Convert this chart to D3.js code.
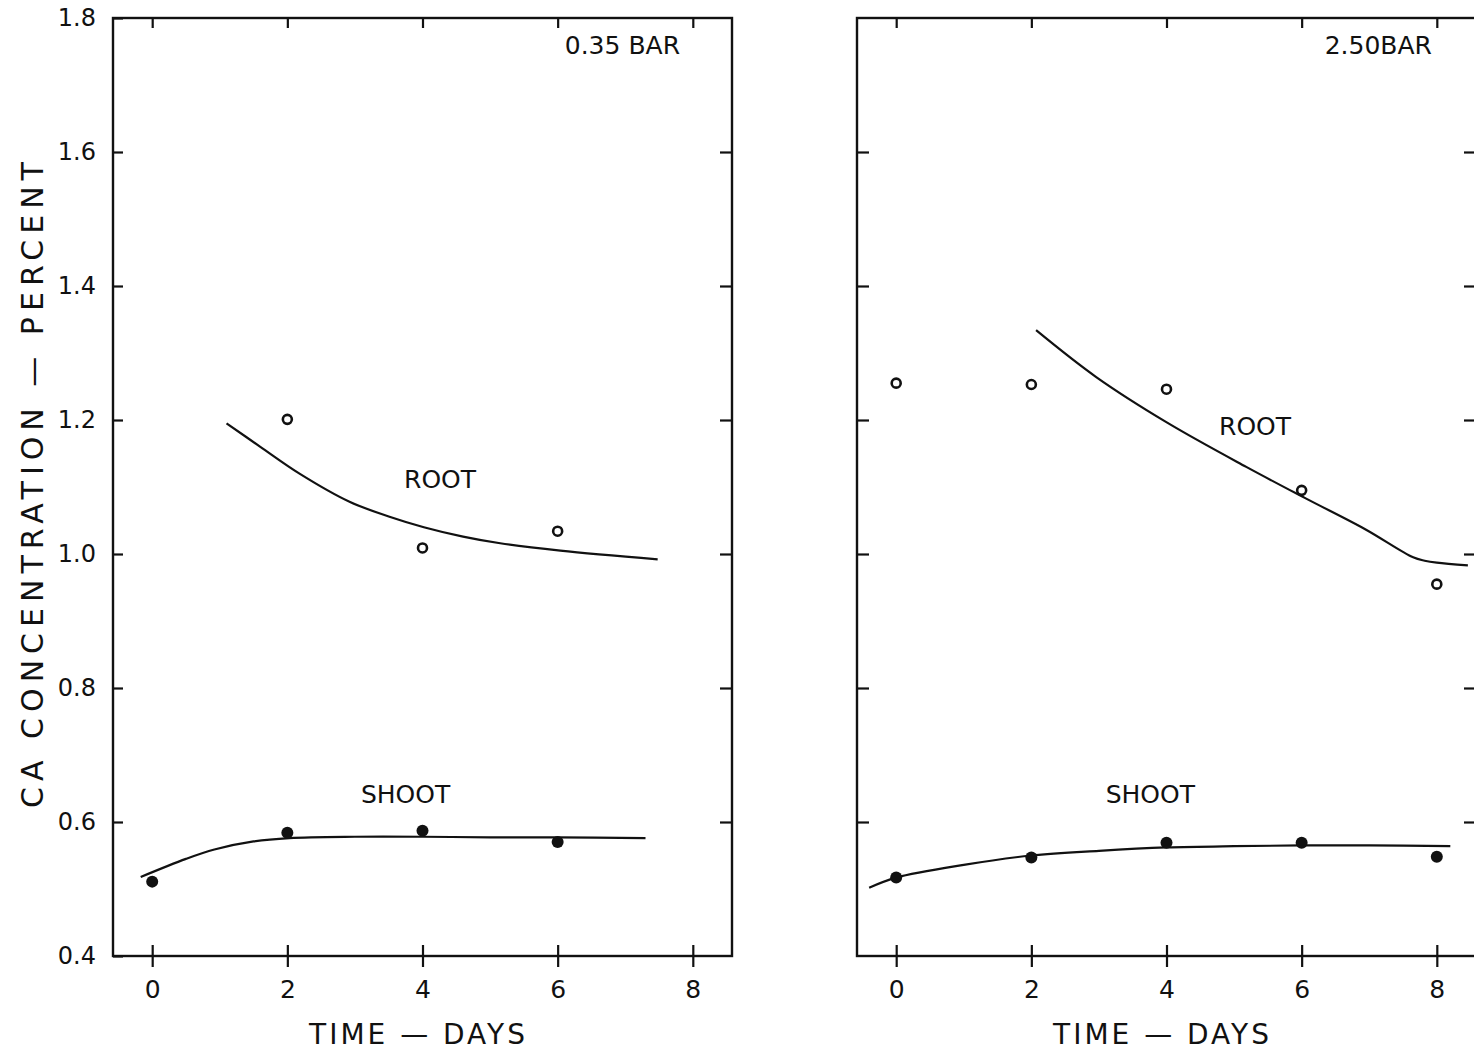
<!DOCTYPE html>
<html>
<head>
<meta charset="utf-8">
<script src="https://cdn.jsdelivr.net/npm/d3@7"></script>
<style>
  body { margin: 0; background: #fff; }
  svg { display: block; }
  text { font-family: "DejaVu Sans", sans-serif; fill: #111; }
  .axis path, .axis line { stroke: #111; stroke-width: 2.2; }
</style>
</head>
<body>
<svg id="chart"></svg>
<script>
const svgWidth = 1474, svgHeight = 1052;

// x ticks (days) and y ticks (percent)
const dayTicks = [0, 2, 4, 6, 8];
const pctTicks = [0.4, 0.6, 0.8, 1.0, 1.2, 1.4, 1.6, 1.8];

// 0.35 bar panel
const lowDays = [2, 4, 6];
const lowRoot = [1.201, 1.009, 1.034];
const lowShootDays = [0, 2, 4, 6];
const lowShoot = [0.511, 0.584, 0.587, 0.570];
const lowRootFitDays = [1.10, 1.6, 2.18, 2.92, 3.5, 4.02, 4.6, 5.15, 6.04, 7.48];
const lowRootFit = [1.195, 1.160, 1.120, 1.078, 1.056, 1.040, 1.026, 1.016, 1.005, 0.992];
const lowShootFitDays = [-0.17, 0.5, 0.92, 1.5, 2.03, 3, 4, 5, 6, 7.3];
const lowShootFit = [0.518, 0.545, 0.559, 0.571, 0.576, 0.578, 0.578, 0.577, 0.577, 0.576];

// 2.50 bar panel
const highDays = [0, 2, 4, 6, 8];
const highRoot = [1.255, 1.253, 1.246, 1.095, 0.955];
const highShoot = [0.517, 0.547, 0.569, 0.569, 0.548];
const highRootFitDays = [2.07, 2.96, 4.01, 5.18, 6.06, 6.94, 7.65, 7.82, 8.0, 8.46];
const highRootFit = [1.334, 1.264, 1.196, 1.130, 1.083, 1.037, 0.995, 0.990, 0.987, 0.983];
const highShootFitDays = [-0.4, 0, 1, 2, 3, 4, 5, 6, 7, 8.2];
const highShootFit = [0.502, 0.517, 0.536, 0.550, 0.557, 0.562, 0.564, 0.565, 0.565, 0.564];

const panels = [
  { left: 113, right: 732, title: "0.35 BAR", titleInset: 52, labels: true,
    rootDays: lowDays, root: lowRoot, shootDays: lowShootDays, shoot: lowShoot,
    rootFitDays: lowRootFitDays, rootFit: lowRootFit,
    shootFitDays: lowShootFitDays, shootFit: lowShootFit,
    rootLabel: [4.26, 1.098], shootLabel: [3.75, 0.628] },
  { left: 857, right: 1476, title: "2.50BAR", titleInset: 44, labels: false,
    rootDays: highDays, root: highRoot, shootDays: highDays, shoot: highShoot,
    rootFitDays: highRootFitDays, rootFit: highRootFit,
    shootFitDays: highShootFitDays, shootFit: highShootFit,
    rootLabel: [5.31, 1.178], shootLabel: [3.76, 0.628] }
];

const plotTop = 18, plotBottom = 956;

const chart = d3.select("#chart")
    .attr("width", svgWidth)
    .attr("height", svgHeight);

var yScale = d3.scaleLinear().domain([0.4, 1.8]).range([plotBottom, plotTop]);

panels.forEach(function(p) {
    var xScale = d3.scaleLinear().domain([-0.58, 8.58]).range([p.left, p.right]);
    var g = chart.append("g");

    // frame
    g.append("rect")
        .attr("x", p.left).attr("y", plotTop)
        .attr("width", p.right - p.left).attr("height", plotBottom - plotTop)
        .attr("fill", "none").attr("stroke", "#111").attr("stroke-width", 2.4);

    // bottom axis, ticks crossing the line
    var xb = g.append("g").attr("class", "axis")
        .attr("transform", "translate(0," + plotBottom + ")")
        .call(d3.axisBottom(xScale).tickValues(dayTicks).tickSize(11).tickPadding(13));
    xb.select(".domain").remove();
    xb.selectAll(".tick line").attr("y1", -11);
    xb.selectAll(".tick text").style("font-size", "25px").attr("dy", "0.71em");

    // top axis, ticks inward
    var xt = g.append("g").attr("class", "axis")
        .attr("transform", "translate(0," + plotTop + ")")
        .call(d3.axisTop(xScale).tickValues(dayTicks).tickSize(-10).tickFormat(""));
    xt.select(".domain").remove();

    // left axis
    var yl = g.append("g").attr("class", "axis")
        .attr("transform", "translate(" + p.left + ",0)");
    if (p.labels) {
        yl.call(d3.axisLeft(yScale).tickValues(pctTicks).tickSize(10).tickPadding(7)
            .tickFormat(d3.format(".1f")));
        yl.selectAll(".tick line").attr("x2", 10);
        yl.selectAll(".tick text").style("font-size", "24px");
    } else {
        yl.call(d3.axisLeft(yScale).tickValues(pctTicks.slice(1, -1)).tickSize(-12).tickFormat(""));
    }
    yl.select(".domain").remove();

    // right axis, ticks inward
    var yr = g.append("g").attr("class", "axis")
        .attr("transform", "translate(" + p.right + ",0)")
        .call(d3.axisRight(yScale).tickValues(pctTicks.slice(1, -1)).tickSize(-12).tickFormat(""));
    yr.select(".domain").remove();

    var line = d3.line()
        .x(function(d) { return xScale(d[0]); })
        .y(function(d) { return yScale(d[1]); })
        .curve(d3.curveCatmullRom.alpha(0.5));

    g.append("path")
        .datum(d3.zip(p.rootFitDays, p.rootFit))
        .attr("d", line)
        .attr("fill", "none").attr("stroke", "#111").attr("stroke-width", 2.2);

    g.append("path")
        .datum(d3.zip(p.shootFitDays, p.shootFit))
        .attr("d", line)
        .attr("fill", "none").attr("stroke", "#111").attr("stroke-width", 2.2);

    g.selectAll(".root")
        .data(d3.zip(p.rootDays, p.root))
        .enter().append("circle")
        .attr("cx", function(d) { return xScale(d[0]); })
        .attr("cy", function(d) { return yScale(d[1]); })
        .attr("r", 4.5)
        .attr("fill", "#fff").attr("stroke", "#111").attr("stroke-width", 2.6);

    g.selectAll(".shoot")
        .data(d3.zip(p.shootDays, p.shoot))
        .enter().append("circle")
        .attr("cx", function(d) { return xScale(d[0]); })
        .attr("cy", function(d) { return yScale(d[1]); })
        .attr("r", 6)
        .attr("fill", "#111");

    g.append("text")
        .attr("x", xScale(p.rootLabel[0])).attr("y", yScale(p.rootLabel[1]))
        .attr("text-anchor", "middle").style("font-size", "25px")
        .text("ROOT");

    g.append("text")
        .attr("x", xScale(p.shootLabel[0])).attr("y", yScale(p.shootLabel[1]))
        .attr("text-anchor", "middle").style("font-size", "25px")
        .text("SHOOT");

    g.append("text")
        .attr("x", p.right - p.titleInset).attr("y", 54)
        .attr("text-anchor", "end").style("font-size", "25px")
        .text(p.title);

    g.append("text")
        .attr("x", (p.left + p.right) / 2 - 4).attr("y", 1044)
        .attr("text-anchor", "middle")
        .style("font-size", "28px").style("letter-spacing", "3px")
        .text("TIME — DAYS");
});

chart.append("text")
    .attr("transform", "translate(43," + 482 + ") rotate(-90)")
    .attr("text-anchor", "middle")
    .style("font-size", "30px").style("letter-spacing", "6px")
    .text("CA  CONCENTRATION — PERCENT");
</script>
</body>
</html>
